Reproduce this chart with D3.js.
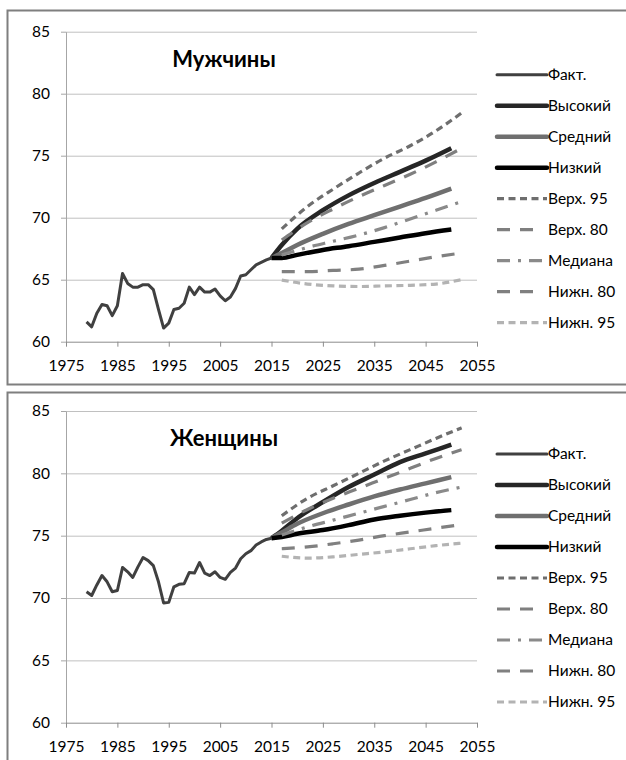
<!DOCTYPE html>
<html>
<head>
<meta charset="utf-8">
<script src="https://cdn.jsdelivr.net/npm/d3@7"></script>
<style>
  body { margin: 0; background: #fff; }
  svg text { font-family: Lato, "Open Sans", sans-serif; fill: #000; }
</style>
</head>
<body>
<svg id="chart" width="626" height="760"></svg>
<script>
// years of observed data, 1979-2015
var factYears = d3.range(1979, 2016)
var scenYears = [2015, 2017, 2020, 2025, 2030, 2035, 2040, 2045, 2050]
var piYears = [2017, 2022, 2027, 2032, 2037, 2042, 2047, 2052]

var menFact = [61.6, 61.2, 62.3, 63.0, 62.9, 62.1, 62.9, 65.5, 64.7, 64.4, 64.4, 64.6, 64.6, 64.2, 62.6, 61.1, 61.5, 62.6, 62.7, 63.1,
  64.4, 63.8, 64.4, 64.0, 64.0, 64.25, 63.7, 63.3, 63.6, 64.3, 65.3, 65.4, 65.8, 66.2, 66.4, 66.6, 66.75]
var menHigh = [66.75, 67.8, 69.1, 70.6, 71.8, 72.8, 73.7, 74.6, 75.6]
var menMid = [66.75, 67.15, 67.8, 68.7, 69.5, 70.2, 70.9, 71.6, 72.35]
var menLow = [66.75, 66.75, 67.0, 67.4, 67.7, 68.05, 68.4, 68.75, 69.05]
var menUp95 = [69.1, 70.9, 72.3, 73.6, 74.8, 75.8, 77.0, 78.45]
var menUp80 = [68.2, 69.6, 70.7, 71.7, 72.6, 73.5, 74.5, 75.6]
var menMed = [67.0, 67.6, 68.1, 68.6, 69.2, 69.9, 70.6, 71.3]
var menLo80 = [65.65, 65.65, 65.75, 65.85, 66.15, 66.5, 66.85, 67.15]
var menLo95 = [64.97, 64.65, 64.5, 64.45, 64.5, 64.55, 64.65, 65.0]

var womenFact = [70.5, 70.2, 71.05, 71.8, 71.3, 70.5, 70.6, 72.45, 72.1, 71.65, 72.5, 73.25, 73.0, 72.6, 71.3, 69.6, 69.65, 70.9, 71.1, 71.15,
  72.05, 72.0, 72.85, 72.0, 71.8, 72.1, 71.65, 71.5, 72.05, 72.4, 73.15, 73.55, 73.8, 74.25, 74.5, 74.7, 74.8]
var womenHigh = [74.8, 75.4, 76.4, 77.7, 78.9, 79.9, 80.9, 81.6, 82.3]
var womenMid = [74.8, 75.25, 75.95, 76.8, 77.5, 78.15, 78.7, 79.2, 79.7]
var womenLow = [74.8, 74.9, 75.15, 75.45, 75.85, 76.3, 76.6, 76.85, 77.05]
var womenUp95 = [76.6, 78.0, 79.0, 80.0, 81.0, 81.9, 82.8, 83.65]
var womenUp80 = [76.0, 77.1, 78.0, 78.8, 79.6, 80.4, 81.2, 81.9]
var womenMed = [75.05, 75.7, 76.25, 76.8, 77.35, 77.9, 78.45, 78.9]
var womenLo80 = [73.95, 74.1, 74.35, 74.65, 75.0, 75.3, 75.6, 75.9]
var womenLo95 = [73.35, 73.2, 73.3, 73.5, 73.7, 73.95, 74.2, 74.4]

var seriesNames = ['Факт.', 'Высокий', 'Средний', 'Низкий', 'Верх. 95', 'Верх. 80', 'Медиана', 'Нижн. 80', 'Нижн. 95']
var xTicks = d3.range(1975, 2056, 10)
var yTicks = [60, 65, 70, 75, 80, 85]

// line look for each series, same order as the names
var styles = [
  { color: '#404040', width: 3, dash: null },
  { color: '#262626', width: 4.5, dash: null },
  { color: '#6f6f6f', width: 4.5, dash: null },
  { color: '#000000', width: 4.5, dash: null },
  { color: '#6e6e6e', width: 3.2, dash: '7,4.5' },
  { color: '#7f7f7f', width: 3.2, dash: '13,10' },
  { color: '#8a8a8a', width: 3.2, dash: '13,8,3,8' },
  { color: '#808080', width: 3.2, dash: '13,10' },
  { color: '#b3b3b3', width: 3.2, dash: '7,4.5' }
]

var svg = d3.select('#chart')

function panel(frameTop, frameBottom, plotTop, plotBottom, title, fact, high, mid, low, up95, up80, med, lo80, lo95) {
  var left = 66, right = 477

  svg.append('rect')
    .attr('x', 7.5).attr('y', frameTop)
    .attr('width', 640).attr('height', frameBottom - frameTop)
    .attr('fill', 'none').attr('stroke', '#7f7f7f').attr('stroke-width', 2)

  var x = d3.scaleLinear().domain([1975, 2055]).range([left, right])
  var y = d3.scaleLinear().domain([60, 85]).range([plotBottom, plotTop])

  var g = svg.append('g')

  // gridlines
  g.append('g')
    .attr('transform', 'translate(' + left + ',0)')
    .call(d3.axisLeft(y).tickValues(yTicks.slice(1)).tickSize(-(right - left)).tickFormat(''))
    .call(function(s){
      s.select('.domain').remove()
      s.selectAll('line').attr('stroke', '#c0c0c0').attr('stroke-width', 1)
    })

  // y axis
  g.append('g')
    .attr('transform', 'translate(' + left + ',0)')
    .call(d3.axisLeft(y).tickValues(yTicks).tickSize(5).tickSizeOuter(0).tickPadding(11))
    .call(function(s){
      s.select('.domain').attr('stroke', '#a6a6a6')
      s.selectAll('line').attr('stroke', '#a6a6a6')
      s.selectAll('text').attr('font-size', 15.5).attr('fill', '#000')
    })

  // x axis
  g.append('g')
    .attr('transform', 'translate(0,' + plotBottom + ')')
    .call(d3.axisBottom(x).tickValues(xTicks).tickSize(5).tickSizeOuter(0).tickFormat(d3.format('d')))
    .call(function(s){
      s.select('.domain').attr('stroke', '#8c8c8c')
      s.selectAll('line').attr('stroke', '#8c8c8c')
      s.selectAll('text').attr('font-size', 15.5).attr('fill', '#000').attr('y', 29).attr('dy', 0)
    })

  g.append('text')
    .attr('x', 224).attr('y', plotTop + 35)
    .attr('text-anchor', 'middle')
    .attr('font-size', 22).attr('font-weight', 'bold')
    .text(title)

  var sets = [
    [factYears, fact], [scenYears, high], [scenYears, mid], [scenYears, low],
    [piYears, up95], [piYears, up80], [piYears, med], [piYears, lo80], [piYears, lo95]
  ]

  sets.forEach(function(s, i){
    var pts = s[0].map(function(yr, j){ return [yr, s[1][j]] })
    var line = d3.line()
      .x(function(d){ return x(d[0]) })
      .y(function(d){ return y(d[1]) })
      .curve(i == 0 ? d3.curveLinear : d3.curveMonotoneX)
    var st = styles[i]
    g.append('path')
      .datum(pts)
      .attr('d', line)
      .attr('fill', 'none')
      .attr('stroke', st.color)
      .attr('stroke-width', st.width)
      .attr('stroke-linejoin', 'round')
      .attr('stroke-dasharray', st.dash)
  })

  // legend
  var leg = g.append('g')
  seriesNames.forEach(function(name, i){
    var ly = plotTop + 43 + i * 31
    var st = styles[i]
    leg.append('line')
      .attr('x1', 497).attr('x2', st.dash == '13,10' ? 534 : 547)
      .attr('y1', ly).attr('y2', ly)
      .attr('stroke', st.color)
      .attr('stroke-width', st.width)
      .attr('stroke-linecap', st.dash ? 'butt' : 'round')
      .attr('stroke-dasharray', st.dash)
    leg.append('text')
      .attr('x', 548).attr('y', ly)
      .attr('dy', '0.35em')
      .attr('font-size', 15.5)
      .text(name)
  })
}

panel(10.5, 384.5, 31.7, 341.7, 'Мужчины', menFact, menHigh, menMid, menLow, menUp95, menUp80, menMed, menLo80, menLo95)
panel(392.5, 790, 411, 722.7, 'Женщины', womenFact, womenHigh, womenMid, womenLow, womenUp95, womenUp80, womenMed, womenLo80, womenLo95)
</script>
</body>
</html>
